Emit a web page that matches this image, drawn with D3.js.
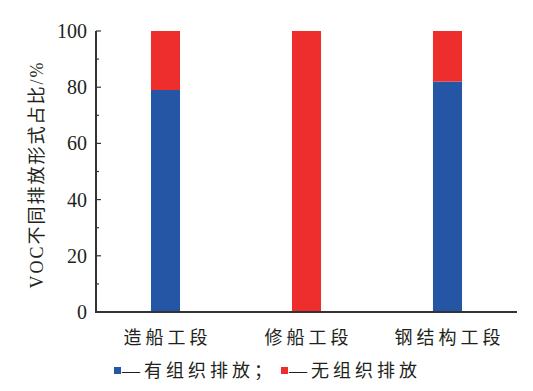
<!DOCTYPE html>
<html>
<head>
<meta charset="utf-8">
<script src="https://cdn.jsdelivr.net/npm/d3@7"></script>
<style>
  body { margin: 0; background: #fff; }
  text { fill: #231f20; }
</style>
</head>
<body>
<svg id="chart" width="533" height="391"></svg>
<script>
const sections = ['造船工段', '修船工段', '钢结构工段']
const organized = [79, 0, 82]
const unorganized = [21, 100, 18]
const yTicks = [0, 20, 40, 60, 80, 100]
const seriesNames = ['有组织排放', '无组织排放']
const colors = ['#2456a5', '#ee2d2d']

const svg = d3.select('#chart')
const margin = { left: 96, right: 16, top: 31, bottom: 79 }
const width = +svg.attr('width')
const height = +svg.attr('height')

const x = d3.scaleBand()
  .domain(sections)
  .range([margin.left, width - margin.right])
  .paddingInner(0.794)
  .paddingOuter(0.39)

const y = d3.scaleLinear()
  .domain([0, 100])
  .range([height - margin.bottom, margin.top])

const latin = "'Liberation Serif', 'Times New Roman', serif"
const cjk = "'Liberation Serif', 'Noto Sans CJK SC', serif"

// Stacked bars
const rows = sections.map((s, i) => ({ key: s, a: organized[i], b: unorganized[i] }))
const stack = d3.stack().keys(['a', 'b'])(rows)

svg.append('g')
  .selectAll('g')
  .data(stack)
  .enter()
  .append('g')
    .attr('fill', (d, i) => colors[i])
  .selectAll('rect')
  .data(d => d)
  .enter()
  .append('rect')
    .attr('x', d => x(d.data.key))
    .attr('width', x.bandwidth())
    .attr('y', d => y(d[1]))
    .attr('height', d => y(d[0]) - y(d[1]))

// Y axis with inward ticks
const yAxis = svg.append('g')
  .attr('transform', `translate(${margin.left},0)`)

yAxis.selectAll('.minor')
  .data(d3.range(10, 100, 20))
  .enter()
  .append('line')
    .attr('x1', 0).attr('x2', 3)
    .attr('y1', d => y(d)).attr('y2', d => y(d))
    .attr('stroke', '#333').attr('stroke-width', 1.2)

yAxis.selectAll('.major')
  .data(yTicks)
  .enter()
  .append('line')
    .attr('x1', 0).attr('x2', 5)
    .attr('y1', d => y(d)).attr('y2', d => y(d))
    .attr('stroke', '#333').attr('stroke-width', 1.2)

yAxis.selectAll('text')
  .data(yTicks)
  .enter()
  .append('text')
    .attr('x', -9)
    .attr('y', d => y(d))
    .attr('dy', '0.35em')
    .attr('text-anchor', 'end')
    .style('font-family', latin)
    .style('font-size', '20px')
    .text(d => d)

// spines
svg.append('line')
  .attr('x1', margin.left).attr('x2', margin.left)
  .attr('y1', y(100)).attr('y2', y(0) + 1)
  .attr('stroke', '#333').attr('stroke-width', 2)
svg.append('line')
  .attr('x1', margin.left - 1).attr('x2', width - margin.right)
  .attr('y1', y(0)).attr('y2', y(0))
  .attr('stroke', '#333').attr('stroke-width', 2)

// X labels
svg.append('g')
  .selectAll('text')
  .data(sections)
  .enter()
  .append('text')
    .attr('x', d => x(d) + x.bandwidth() / 2 + 2)
    .attr('y', 344)
    .attr('text-anchor', 'middle')
    .style('font-family', cjk)
    .style('font-size', '18px')
    .style('letter-spacing', '4px')
    .text(d => d)

// Y title
svg.append('text')
  .attr('transform', `translate(43,${(y(0) + y(100)) / 2 + 3}) rotate(-90)`)
  .attr('text-anchor', 'middle')
  .style('font-family', cjk)
  .style('font-size', '18px')
  .style('letter-spacing', '2px')
  .text('VOC不同排放形式占比/%')

// Legend
const legend = svg.append('g')
const legendX = [114, 281]
legend.selectAll('rect')
  .data(seriesNames)
  .enter()
  .append('rect')
    .attr('x', (d, i) => legendX[i])
    .attr('y', 367)
    .attr('width', 7)
    .attr('height', 7)
    .attr('fill', (d, i) => colors[i])

legend.selectAll('text')
  .data(seriesNames)
  .enter()
  .append('text')
    .attr('x', (d, i) => legendX[i] + 8)
    .attr('y', 377)
    .style('font-family', cjk)
    .style('font-size', '18px')
    .style('letter-spacing', '4px')
    .text((d, i) => '—' + d + (i === 0 ? '；' : ''))
</script>
</body>
</html>
